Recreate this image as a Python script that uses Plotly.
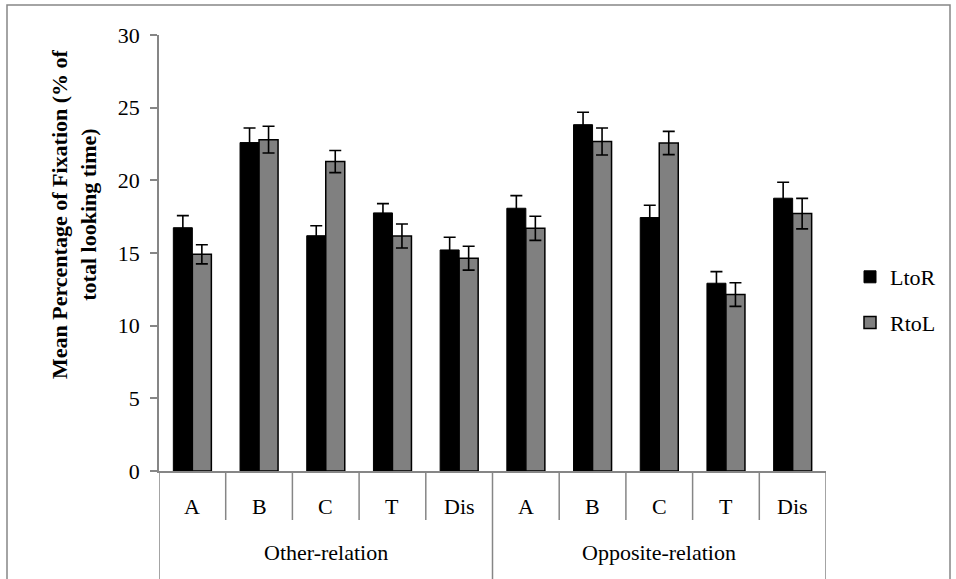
import plotly.graph_objects as go

# ---- data ----
groups = ["Other-relation", "Opposite-relation"]
subcats = ["A", "B", "C", "T", "Dis"]
ltor = [16.74, 22.60, 16.19, 17.76, 15.21, 18.08, 23.83, 17.44, 12.92, 18.77]
ltor_err = [0.83, 1.00, 0.69, 0.64, 0.87, 0.87, 0.85, 0.85, 0.80, 1.10]
rtol = [14.91, 22.80, 21.29, 16.17, 14.64, 16.70, 22.67, 22.57, 12.14, 17.71]
rtol_err = [0.66, 0.92, 0.76, 0.83, 0.82, 0.83, 0.93, 0.80, 0.81, 1.05]
y_ticks = [0, 5, 10, 15, 20, 25, 30]

FONT = "Liberation Serif, Times New Roman, serif"
AXC = "#868686"
FS = 22

cat_labels = [s for g in groups for s in subcats]
xs = list(range(len(cat_labels)))

# pixel geometry helpers (plot area 159..826 x, 35..471 y)
L, R, T, B = 159, 826, 35, 471
W, H = 956, 579
def px(x):
    return (x - L) / (R - L)
def py(y):
    return (B - y) / (B - T)

fig = go.Figure()
fig.add_trace(go.Bar(
    x=xs, y=ltor, name="LtoR", legendgroup="a",
    marker=dict(color="#000000", line=dict(color="#000000", width=1)),
    error_y=dict(type="data", array=ltor_err, visible=True, color="#000000", thickness=1.6, width=6),
))
fig.add_trace(go.Bar(
    x=xs, y=rtol, name="RtoL", legendgroup="b",
    marker=dict(color="#808080", line=dict(color="#000000", width=1.5)),
    error_y=dict(type="data", array=rtol_err, visible=True, color="#000000", thickness=1.6, width=6),
))

shapes = []
# outer chart border
shapes.append(dict(type="rect", xref="paper", yref="paper",
                   x0=px(7), x1=px(950), y0=py(5), y1=py(600),
                   line=dict(color=AXC, width=1.5), fillcolor="rgba(0,0,0,0)", layer="below"))
# category separators
n = len(cat_labels)
per = len(subcats)
for i in range(n + 1):
    xb = i - 0.5
    is_group = (i % per == 0)
    shapes.append(dict(type="line", xref="x", yref="paper",
                       x0=xb, x1=xb, y0=0, y1=py(600 if is_group else 520),
                       line=dict(color=AXC, width=1.5)))

annotations = []
for i, lab in enumerate(cat_labels):
    annotations.append(dict(x=i, y=py(506), xref="x", yref="paper", text=lab,
                            showarrow=False, font=dict(family=FONT, size=FS, color="#000"),
                            xanchor="center", yanchor="middle"))
for gi, g in enumerate(groups):
    annotations.append(dict(x=gi * per + (per - 1) / 2, y=py(552), xref="x", yref="paper", text=g,
                            showarrow=False, font=dict(family=FONT, size=FS, color="#000"),
                            xanchor="center", yanchor="middle"))
annotations.append(dict(x=px(74), y=py(214), xref="paper", yref="paper",
                        text="<b>Mean Percentage of Fixation (% of<br>total looking time)</b>",
                        textangle=-90, showarrow=False,
                        font=dict(family=FONT, size=FS, color="#000"),
                        xanchor="center", yanchor="middle"))

fig.update_layout(
    width=W, height=H, autosize=False,
    margin=dict(l=L, r=W - R, t=T, b=H - B, pad=0),
    paper_bgcolor="white", plot_bgcolor="white",
    barmode="group", bargap=0.43, bargroupgap=0,
    font=dict(family=FONT, size=FS, color="#000"),
    showlegend=True,
    legend=dict(x=px(850), y=py(256), xanchor="left", yanchor="top",
                font=dict(family=FONT, size=FS, color="#000"),
                tracegroupgap=14, bgcolor="rgba(0,0,0,0)"),
    xaxis=dict(range=[-0.5, n - 0.5], showticklabels=False, ticks="",
               showline=True, linecolor=AXC, linewidth=1.5, showgrid=False, zeroline=False,
               fixedrange=True),
    yaxis=dict(range=[0, 30], tickvals=y_ticks, ticks="outside", ticklen=7,
               tickcolor=AXC, tickwidth=1.5, showline=True, linecolor=AXC, linewidth=1.5,
               showgrid=False, zeroline=False, ticklabelstandoff=6,
               tickfont=dict(family=FONT, size=FS, color="#000")),
    shapes=shapes, annotations=annotations,
)

fig.write_html("out.html", config={"displayModeBar": False},
               post_script="document.body.style.margin='0px';")
